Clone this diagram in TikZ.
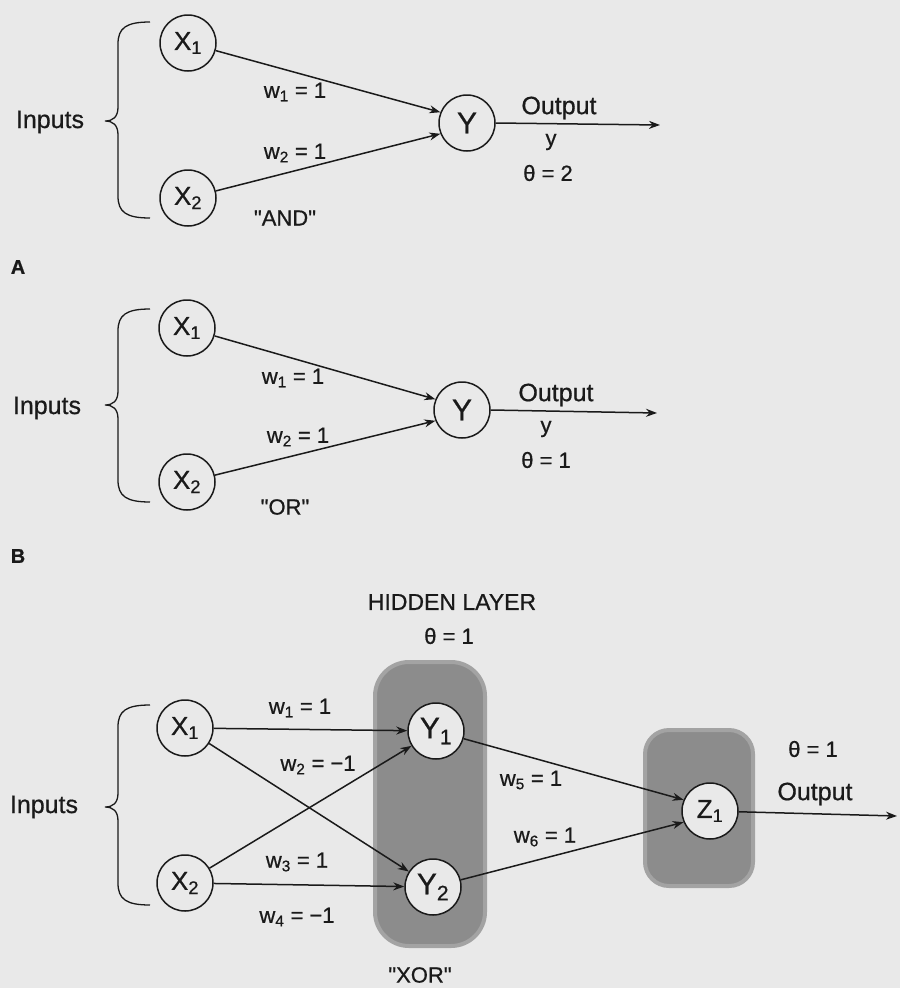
\documentclass[tikz,border=0pt]{standalone}
\usepackage{fontspec}
\setmainfont{Liberation Sans}[Ligatures=TeXOff, FakeBold=0.7]
\usetikzlibrary{arrows.meta}
\definecolor{paper}{HTML}{E9E9E9}
\definecolor{ink}{HTML}{1A1A1A}
\definecolor{layergray}{HTML}{8C8C8C}
\newcommand{\inputbrace}[3]{%
  \draw[brc] (150,#1) .. controls (126,#1) and (118,#1+6) .. (118,#1+22) -- (118,#2-14)
    .. controls (118,#2-4) and (113,#2) .. (105,#2) .. controls (113,#2) and (118,#2+4) .. (118,#2+14)
    -- (118,#3-22) .. controls (118,#3-6) and (126,#3) .. (150,#3);}

\begin{document}
\begin{tikzpicture}[
  x=1pt, y=-1pt,
  neu/.style={circle, draw=ink, line width=1.5pt, fill=paper, minimum size=56pt, inner sep=0pt, text=ink, font=\fontsize{26}{30}\selectfont},
  arr/.style={-{Stealth[length=11pt,width=8pt]}, line width=1.5pt, draw=ink},
  lbl/.style={font=\fontsize{22}{26}\selectfont, text=ink, inner sep=0pt},
  big/.style={font=\fontsize{25}{30}\selectfont, text=ink, inner sep=0pt},
  tag/.style={font=\fontsize{20}{24}\selectfont\bfseries, text=ink, inner sep=0pt},
  brc/.style={draw=ink, line width=1.3pt},
  hid/.style={fill=layergray, draw=layergray!75!paper, line width=4pt}
]
\fill[paper] (0,0) rectangle (900,988);
\useasboundingbox (0,0) rectangle (900,988);

% A: AND
\node[neu] (ax1) at (188,43) {X\textsubscript{1}};
\node[neu] (ax2) at (188,198) {X\textsubscript{2}};
\node[neu, font=\fontsize{30}{34}\selectfont] (ay) at (467,123) {Y};
\coordinate (aout) at (660,125);
\inputbrace{22}{121}{218}
\node[big] (ain) at (50,122) {Inputs};
\node[lbl] (aw1) at (295,92) {w\textsubscript{1} = 1};
\node[lbl] (aw2) at (295,153) {w\textsubscript{2} = 1};
\node[lbl] (aand) at (285,218) {"AND"};
\node[big] (aoutput) at (559,108) {Output};
\node[lbl] (ayy) at (551,142) {y};
\node[lbl] (ath) at (548,173) {θ = 2};
\node[tag] (atag) at (18,267) {A};
\draw[arr] (ax1) -- (ay.158);
\draw[arr] (ax2) -- (ay.202);
\draw[arr] (ay.east) -- (aout);

% B: OR
\node[neu] (bx1) at (187,328) {X\textsubscript{1}};
\node[neu] (bx2) at (187,482) {X\textsubscript{2}};
\node[neu, font=\fontsize{30}{34}\selectfont] (by) at (462,410) {Y};
\coordinate (bout) at (657,413);
\inputbrace{309}{405}{502}
\node[big] (bin) at (47,408) {Inputs};
\node[lbl] (bw1) at (293,378) {w\textsubscript{1} = 1};
\node[lbl] (bw2) at (298,437) {w\textsubscript{2} = 1};
\node[lbl] (bor) at (285,507) {"OR"};
\node[big] (boutput) at (556,395) {Output};
\node[lbl] (byy) at (546,429) {y};
\node[lbl] (bth) at (546,460) {θ = 1};
\node[tag] (btag) at (18,556) {B};
\draw[arr] (bx1) -- (by.158);
\draw[arr] (bx2) -- (by.202);
\draw[arr] (by.east) -- (bout);

% C: XOR
\path[hid, rounded corners=34pt] (375,662) rectangle (485,946);
\path[hid, rounded corners=24pt] (645,730) rectangle (753,886);
\node[lbl, font=\fontsize{23}{27}\selectfont] (chl) at (452,602) {HIDDEN LAYER};
\node[lbl] (cth1) at (449,636) {θ = 1};
\node[neu] (cx1) at (185,728) {X\textsubscript{1}};
\node[neu] (cx2) at (185,883) {X\textsubscript{2}};
\node[neu, font=\fontsize{30}{34}\selectfont] (cy1) at (436,731) {Y\textsubscript{1}};
\node[neu, font=\fontsize{30}{34}\selectfont] (cy2) at (433,887) {Y\textsubscript{2}};
\node[neu] (cz1) at (710,811) {Z\textsubscript{1}};
\coordinate (cout) at (897,816);
\inputbrace{705}{807}{905}
\node[big] (cin) at (44,807) {Inputs};
\node[lbl] (cw1) at (300,708) {w\textsubscript{1} = 1};
\node[lbl] (cw2) at (318,765) {w\textsubscript{2} = −1};
\node[lbl] (cw3) at (297,862) {w\textsubscript{3} = 1};
\node[lbl] (cw4) at (297,917) {w\textsubscript{4} = −1};
\node[lbl] (cw5) at (531,780) {w\textsubscript{5} = 1};
\node[lbl] (cw6) at (545,837) {w\textsubscript{6} = 1};
\node[lbl] (cth2) at (813,749) {θ = 1};
\node[big] (coutput) at (815,794) {Output};
\node[lbl] (cxor) at (420,975) {"XOR"};
\draw[arr] (cx1) -- (cy1);
\draw[arr] (cx1) -- (cy2);
\draw[arr] (cx2) -- (cy1);
\draw[arr] (cx2) -- (cy2);
\draw[arr] (cy1) -- (cz1.157);
\draw[arr] (cy2) -- (cz1.203);
\draw[arr] (cz1) -- (cout);
\end{tikzpicture}
\end{document}
